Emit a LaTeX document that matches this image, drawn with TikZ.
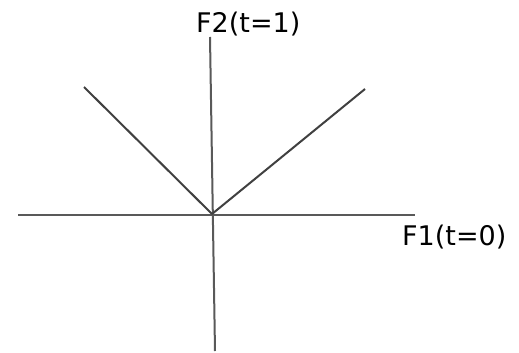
\documentclass[tikz,border=0pt]{standalone}
\usepackage{fontspec}
\setmainfont{DejaVu Sans}
\usepackage{tikz}

\begin{document}
\begin{tikzpicture}[x=1pt, y=-1pt,
  axis/.style={draw=black!65, line width=2pt},
  ray/.style={draw=black!75, line width=2pt},
  lab/.style={font=\fontsize{27}{30}\selectfont, inner sep=0pt, anchor=base west}]
\useasboundingbox (0,0) rectangle (519,353);
\coordinate (o) at (212,214);
\coordinate (xl) at (18,215);
\coordinate (xr) at (415,215);
\coordinate (yt) at (210,37);
\coordinate (yb) at (215,351);
\coordinate (rl) at (84,87);
\coordinate (rr) at (365,89);
\draw[axis] (xl) -- (xr);
\draw[axis] (yt) -- (yb);
\draw[ray] (rl) -- (o);
\draw[ray] (o) -- (rr);
\node[lab] (f2) at (196,33) {F2(t=1)};
\node[lab] (f1) at (402,245) {F1(t=0)};
\end{tikzpicture}
\end{document}
